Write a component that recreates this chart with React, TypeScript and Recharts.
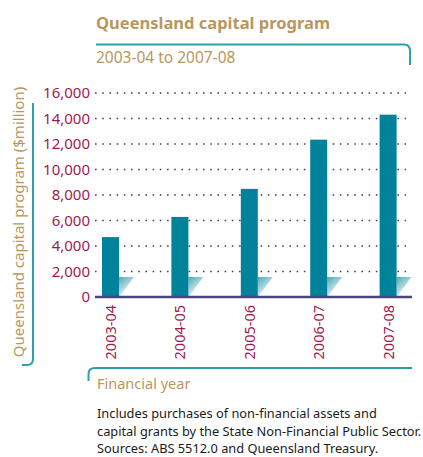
import React from 'react';
import { BarChart, Bar, XAxis, YAxis, CartesianGrid } from 'recharts';

const years = ['2003-04', '2004-05', '2005-06', '2006-07', '2007-08'];
const capitalProgram = [4700, 6280, 8480, 12340, 14300];
const yTicks = [0, 2000, 4000, 6000, 8000, 10000, 12000, 14000, 16000];

const TEAL = '#00829a';
const TAN = '#b8975e';
const CRIMSON = '#9e1b4f';
const BRACKET = '#2d9fb0';
const FONT = '"Noto Sans", "Open Sans", sans-serif';

const data = years.map((year, i) => ({ year, value: capitalProgram[i] }));

// bar with the little gradient "shadow" wedge at its foot
const BarWithShadow = (props: any) => {
  const { x, y, width, height } = props;
  const base = y + height;
  const right = x + width;
  return (
    <g>
      <polygon
        points={`${right},${base - 20} ${right + 15},${base - 20} ${right},${base}`}
        fill="url(#shadowGrad)"
      />
      <rect x={x} y={y} width={width} height={height} fill={TEAL} />
    </g>
  );
};

const YearTick = ({ x, y, payload }: any) => (
  <text
    x={x}
    y={y}
    transform={`rotate(-90, ${x}, ${y})`}
    textAnchor="end"
    dy="0.36em"
    fill={CRIMSON}
    fontSize={14.5}
    fontFamily={FONT}
  >
    {payload.value}
  </text>
);

const DottedLine = (props: any) => {
  const { x1, x2, y1, y2 } = props;
  if (Math.abs(y1 - 297) < 2) return null;
  return (
    <line
      x1={x1}
      x2={x2 - 6}
      y1={y1}
      y2={y2}
      stroke="#3f3c80"
      strokeWidth={1.6}
      strokeDasharray="1.6 5.6"
    />
  );
};

export default function App() {
  return (
    <div style={{ position: 'absolute', left: 0, top: 0, width: 423, height: 457, overflow: 'hidden', background: '#fff' }}>
      <BarChart
        width={423}
        height={457}
        data={data}
        margin={{ top: 93, right: 11, left: 0, bottom: 0 }}
        style={{ position: 'absolute', left: 0, top: 0 }}
      >
        <defs>
          <linearGradient id="shadowGrad" x1="0" y1="0" x2="0.6" y2="1">
            <stop offset="0%" stopColor="#4fa9ba" />
            <stop offset="100%" stopColor="#ffffff" />
          </linearGradient>
        </defs>
        <CartesianGrid vertical={false} horizontal={(p: any) => <DottedLine {...p} />} />
        <XAxis
          dataKey="year"
          height={160}
          padding={{ left: -19, right: -11 }}
          axisLine={{ stroke: '#4a4487', strokeWidth: 2.5 }}
          tickLine={false}
          tickSize={4}
          tickMargin={4}
          interval={0}
          tick={<YearTick />}
        />
        <YAxis
          width={95}
          domain={[0, 16000]}
          ticks={yTicks}
          axisLine={false}
          tickLine={false}
          tickSize={3}
          tickMargin={2}
          tickFormatter={(v: number) => v.toLocaleString('en-US')}
          tick={{ fill: CRIMSON, fontSize: 15, fontFamily: FONT }}
        />
        <Bar dataKey="value" barSize={17} shape={<BarWithShadow />} isAnimationActive={false} />
      </BarChart>

      <svg width={423} height={457} style={{ position: 'absolute', left: 0, top: 0, pointerEvents: 'none' }}>
        <g fill="none" stroke={BRACKET} strokeWidth={2}>
          <path d="M96,44.5 H404 Q410,44.5 410,51 V65" />
          <path d="M33,103 V359 Q33,365 27,365 H22" />
          <path d="M88.5,381 V374 Q88.5,368 95,368 H412" />
        </g>
        <text x={96} y={22} dominantBaseline="central" fill={TAN} fontSize={16.5} fontWeight={700} fontFamily={FONT}>
          Queensland capital program
        </text>
        <text x={96} y={57} dominantBaseline="central" fill={TAN} fontSize={15.5} fontFamily={FONT}>
          2003-04 to 2007-08
        </text>
        <text
          x={18}
          y={222}
          transform="rotate(-90, 18, 222)"
          textAnchor="middle"
          dominantBaseline="central"
          fill={TAN}
          fontSize={15}
          fontFamily={FONT}
        >
          Queensland capital program ($million)
        </text>
        <text x={97} y={383} dominantBaseline="central" fill={TAN} fontSize={14.5} fontFamily={FONT}>
          Financial year
        </text>
        <g fill="#1a1a1a" fontSize={12.8} fontFamily={FONT}>
          <text x={97} y={413} dominantBaseline="central">Includes purchases of non-financial assets and</text>
          <text x={97} y={431} dominantBaseline="central">capital grants by the State Non-Financial Public Sector.</text>
          <text x={97} y={448} dominantBaseline="central">Sources: ABS 5512.0 and Queensland Treasury.</text>
        </g>
      </svg>
    </div>
  );
}
